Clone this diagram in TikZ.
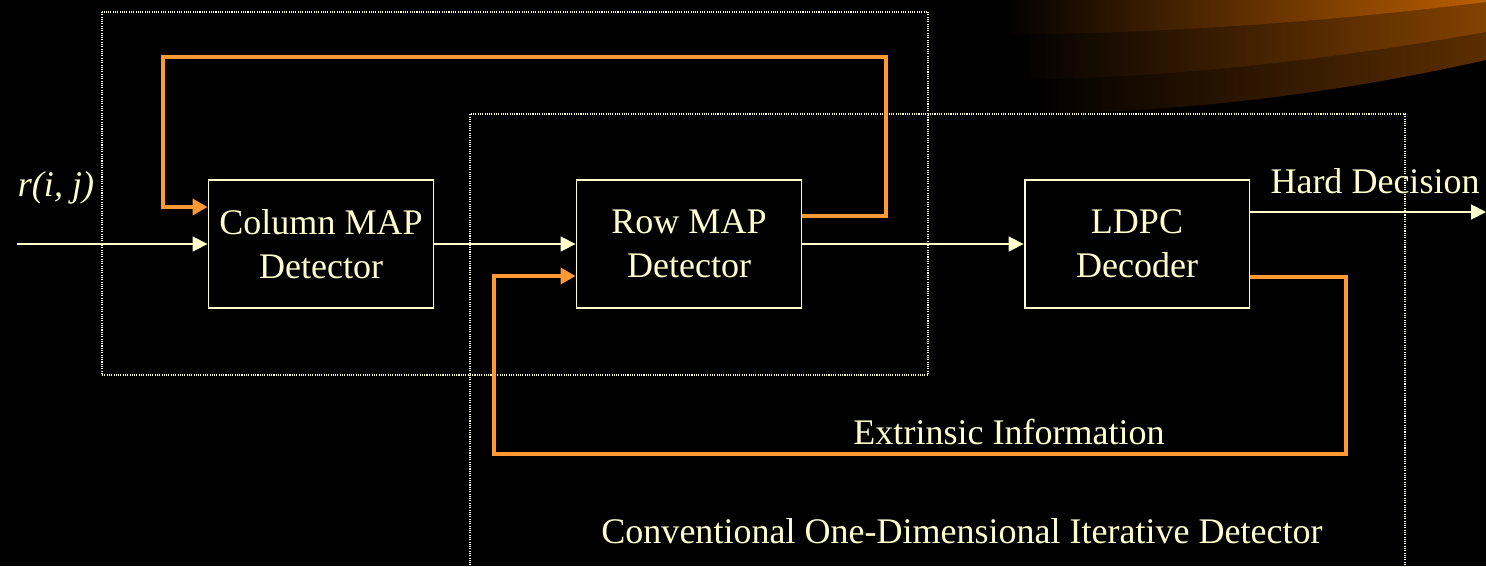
\documentclass[tikz,border=0pt]{standalone}
\usepackage{fontspec}
\setmainfont{Liberation Serif}
\usetikzlibrary{arrows.meta,calc,positioning}
\definecolor{cream}{HTML}{FFFFCC}
\definecolor{fborange}{HTML}{FF9933}
\definecolor{swooshA}{HTML}{BC5E00}
\definecolor{swooshB}{HTML}{844200}
\definecolor{swooshC}{HTML}{5C2E00}
\begin{document}
\begin{tikzpicture}[x=0.02cm, y=-0.02cm,
        blockbox/.style={draw=cream, line width=1.1pt, fill=black, minimum width=4.5cm,
            minimum height=2.56cm, align=center, text=cream, font=\fontsize{20.5}{25}\selectfont},
        sigline/.style={draw=cream, line width=1.1pt, -{Triangle[length=8.5pt,width=8.5pt]}},
        fbline/.style={draw=fborange, line width=2.3pt, -{Triangle[length=8.5pt,width=9pt]}},
        groupbox/.style={draw=cream, line width=0.6pt, dash pattern=on 0.6pt off 0.7pt},
        lbl/.style={text=cream, font=\fontsize{20.5}{25}\selectfont, inner sep=0pt}]
    % background
    \fill[black] (0,0) rectangle (1486,566);
    \useasboundingbox (0,0) rectangle (1486,566);
    % swoosh in the corner
    \shade[left color=black, right color=swooshC]
        (1030,0) -- (1486,0) -- (1486,60) .. controls (1330,95) and (1180,112) .. (1030,114) -- cycle;
    \shade[left color=black, right color=swooshB]
        (1013,0) -- (1486,0) -- (1486,32) .. controls (1300,65) and (1150,78) .. (1013,80) -- cycle;
    \shade[left color=black, right color=swooshA]
        (1000,0) -- (1486,0) -- (1486,2) .. controls (1300,25) and (1150,33) .. (1000,35) -- cycle;

    % the two dotted groups
    \draw[groupbox] (102,12) rectangle (928,375);
    \draw[groupbox] (470,570) -- (470,114) -- (1405,114) -- (1405,570);

    % blocks
    \node[blockbox] (col) at (321,244) {Column MAP\\Detector};
    \node[blockbox] (row) at (689,244) {Row MAP\\Detector};
    \node[blockbox] (ldpc) at (1137,244) {LDPC\\Decoder};

    \coordinate (in) at (17,244);
    \coordinate (out) at (1486,212);

    % signal path
    \draw[sigline] (in) -- (col.west);
    \draw[sigline] (col.east) -- (row.west);
    \draw[sigline] (row.east) -- (ldpc.west);
    \draw[sigline] ($(ldpc.east)+(0,-32)$) -- (out);

    % feedback loops
    \draw[fbline] ($(row.east)+(0,-28)$) -| (886,57) -| (163,207) -- ($(col.west)+(0,-37)$);
    \draw[fbline] ($(ldpc.east)+(0,33)$) -| (1346,454) -| (494,276) -- ($(row.west)+(0,32)$);

    % labels
    \node[lbl, font=\fontsize{20.5}{25}\selectfont\itshape] (rij) at (56,188) {r(i, j)};
    \node[lbl] (hard) at (1375,181) {Hard Decision};
    \node[lbl] (extr) at (1009,432) {Extrinsic Information};
    \node[lbl] (conv) at (962,531) {Conventional One-Dimensional Iterative Detector};
\end{tikzpicture}
\end{document}
